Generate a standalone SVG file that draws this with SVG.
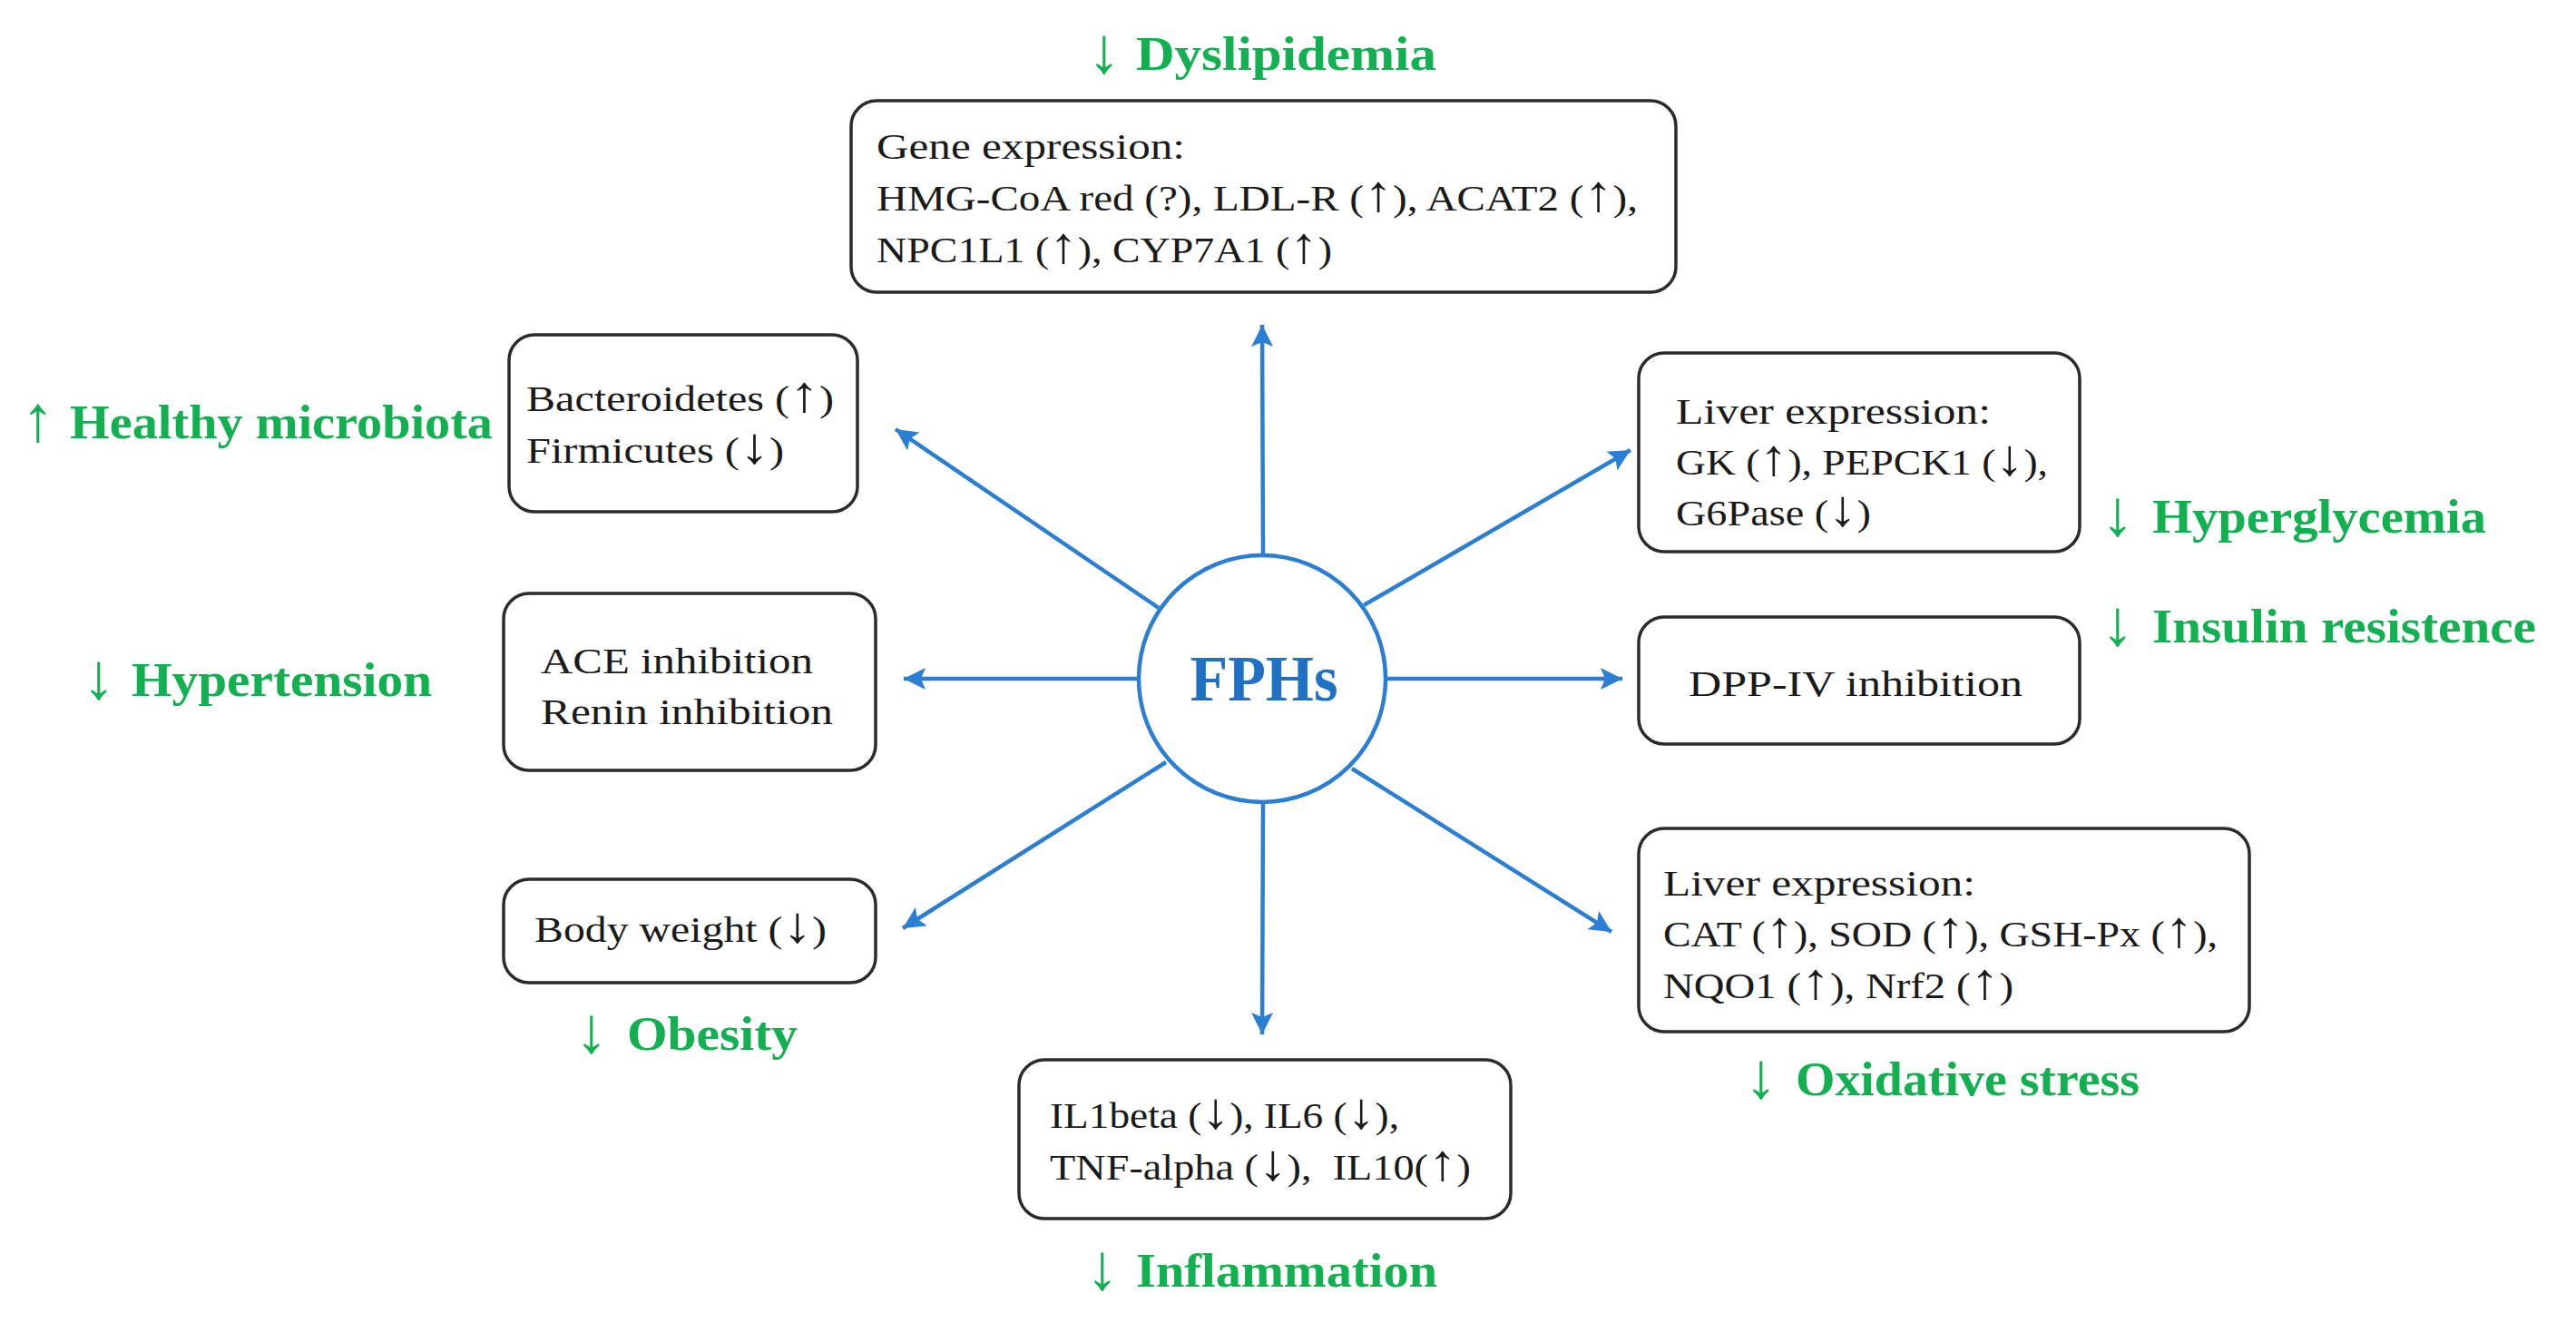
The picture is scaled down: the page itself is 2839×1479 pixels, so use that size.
<svg xmlns="http://www.w3.org/2000/svg" width="2839" height="1479" viewBox="0 0 2839 1479">
<style>
.box{fill:#ffffff;stroke:#2b2b2b;stroke-width:3.5}
.t{font-family:"Liberation Serif","Times New Roman",serif;font-size:41px;fill:#1a1a1a}
.ar{font-size:56px}
.g{font-family:"Liberation Serif","Times New Roman",serif;font-size:53px;font-weight:bold;fill:#12b050}
.ga{font-family:"Liberation Serif","Times New Roman",serif;font-size:72px;fill:#12b050;text-anchor:middle}
.c{stroke:#2a7fd4;stroke-width:4.5;fill:none;marker-end:url(#ah)}
.hub{fill:#ffffff;stroke:#2a7fd4;stroke-width:4.5}
.hubt{font-family:"Liberation Serif","Times New Roman",serif;font-size:72px;font-weight:bold;fill:#1f71c4;text-anchor:middle}
</style>
<defs>
<marker id="ah" markerUnits="userSpaceOnUse" markerWidth="26" markerHeight="26" refX="24" refY="12" orient="auto">
<path d="M0,0 L24,12 L0,24 L5,12 z" fill="#2a7fd4"/>
</marker>
</defs>
<rect width="2839" height="1479" fill="#ffffff"/>

<g id="connectors">
<line class="c" x1="1392" y1="612" x2="1391" y2="358"/>
<line class="c" x1="1277" y1="670" x2="987" y2="473"/>
<line class="c" x1="1255" y1="748" x2="996" y2="748"/>
<line class="c" x1="1285" y1="840" x2="995" y2="1023"/>
<line class="c" x1="1392" y1="885" x2="1391" y2="1140"/>
<line class="c" x1="1490" y1="847" x2="1776" y2="1027"/>
<line class="c" x1="1528" y1="748" x2="1788" y2="748"/>
<line class="c" x1="1503" y1="667" x2="1797" y2="496"/>
</g>

<g id="hub">
<circle class="hub" cx="1391" cy="748" r="136"/>
<text class="hubt" x="1393" y="772" textLength="163" lengthAdjust="spacingAndGlyphs">FPHs</text>
</g>

<g id="node-gene">
<rect class="box" x="938" y="111" width="909" height="211" rx="28"/>
<text class="t" x="966" y="175" textLength="340" lengthAdjust="spacingAndGlyphs">Gene expression:</text>
<text class="t" x="966" y="232" textLength="839" lengthAdjust="spacingAndGlyphs">HMG-CoA red (?), LDL-R (<tspan class="ar">↑</tspan>), ACAT2 (<tspan class="ar">↑</tspan>),</text>
<text class="t" x="966" y="289" textLength="502" lengthAdjust="spacingAndGlyphs">NPC1L1 (<tspan class="ar">↑</tspan>), CYP7A1 (<tspan class="ar">↑</tspan>)</text>
</g>

<g id="node-microbiota">
<rect class="box" x="561" y="369" width="384" height="195" rx="28"/>
<text class="t" x="580" y="453" textLength="339" lengthAdjust="spacingAndGlyphs">Bacteroidetes (<tspan class="ar">↑</tspan>)</text>
<text class="t" x="580" y="510" textLength="284" lengthAdjust="spacingAndGlyphs">Firmicutes (<tspan class="ar">↓</tspan>)</text>
</g>

<g id="node-ace">
<rect class="box" x="555" y="654" width="410" height="195" rx="28"/>
<text class="t" x="596" y="742" textLength="300" lengthAdjust="spacingAndGlyphs">ACE inhibition</text>
<text class="t" x="596" y="798" textLength="322" lengthAdjust="spacingAndGlyphs">Renin inhibition</text>
</g>

<g id="node-body">
<rect class="box" x="555" y="969" width="410" height="114" rx="28"/>
<text class="t" x="589" y="1038" textLength="322" lengthAdjust="spacingAndGlyphs">Body weight (<tspan class="ar">↓</tspan>)</text>
</g>

<g id="node-inflammation">
<rect class="box" x="1123" y="1168" width="542" height="175" rx="28"/>
<text class="t" x="1157" y="1243" textLength="385" lengthAdjust="spacingAndGlyphs">IL1beta (<tspan class="ar">↓</tspan>), IL6 (<tspan class="ar">↓</tspan>),</text>
<text class="t" x="1157" y="1300" textLength="464" lengthAdjust="spacingAndGlyphs">TNF-alpha (<tspan class="ar">↓</tspan>), &#160;IL10(<tspan class="ar">↑</tspan>)</text>
</g>

<g id="node-liver-glucose">
<rect class="box" x="1806" y="389" width="486" height="219" rx="28"/>
<text class="t" x="1847" y="467" textLength="347" lengthAdjust="spacingAndGlyphs">Liver expression:</text>
<text class="t" x="1847" y="523" textLength="410" lengthAdjust="spacingAndGlyphs">GK (<tspan class="ar">↑</tspan>), PEPCK1 (<tspan class="ar">↓</tspan>),</text>
<text class="t" x="1847" y="579" textLength="215" lengthAdjust="spacingAndGlyphs">G6Pase (<tspan class="ar">↓</tspan>)</text>
</g>

<g id="node-dpp">
<rect class="box" x="1806" y="680" width="486" height="140" rx="28"/>
<text class="t" x="1861" y="767" textLength="368" lengthAdjust="spacingAndGlyphs">DPP-IV inhibition</text>
</g>

<g id="node-liver-oxidative">
<rect class="box" x="1806" y="913" width="673" height="224" rx="28"/>
<text class="t" x="1833" y="987" textLength="344" lengthAdjust="spacingAndGlyphs">Liver expression:</text>
<text class="t" x="1833" y="1043" textLength="611" lengthAdjust="spacingAndGlyphs">CAT (<tspan class="ar">↑</tspan>), SOD (<tspan class="ar">↑</tspan>), GSH-Px (<tspan class="ar">↑</tspan>),</text>
<text class="t" x="1833" y="1100" textLength="386" lengthAdjust="spacingAndGlyphs">NQO1 (<tspan class="ar">↑</tspan>), Nrf2 (<tspan class="ar">↑</tspan>)</text>
</g>

<g id="label-dyslipidemia">
<text class="ga" x="1217" y="80">↓</text>
<text class="g" x="1252" y="77" textLength="331" lengthAdjust="spacingAndGlyphs">Dyslipidemia</text>
</g>
<g id="label-microbiota">
<text class="ga" x="42" y="486">↑</text>
<text class="g" x="77" y="483" textLength="466" lengthAdjust="spacingAndGlyphs">Healthy microbiota</text>
</g>
<g id="label-hypertension">
<text class="ga" x="109" y="770">↓</text>
<text class="g" x="145" y="767" textLength="331" lengthAdjust="spacingAndGlyphs">Hypertension</text>
</g>
<g id="label-obesity">
<text class="ga" x="652" y="1160">↓</text>
<text class="g" x="691" y="1157" textLength="188" lengthAdjust="spacingAndGlyphs">Obesity</text>
</g>
<g id="label-inflammation">
<text class="ga" x="1215" y="1421">↓</text>
<text class="g" x="1252" y="1418" textLength="332" lengthAdjust="spacingAndGlyphs">Inflammation</text>
</g>
<g id="label-oxidative">
<text class="ga" x="1941" y="1210">↓</text>
<text class="g" x="1979" y="1207" textLength="379" lengthAdjust="spacingAndGlyphs">Oxidative stress</text>
</g>
<g id="label-hyperglycemia">
<text class="ga" x="2334" y="590">↓</text>
<text class="g" x="2372" y="587" textLength="368" lengthAdjust="spacingAndGlyphs">Hyperglycemia</text>
</g>
<g id="label-insulin">
<text class="ga" x="2334" y="711">↓</text>
<text class="g" x="2372" y="708" textLength="423" lengthAdjust="spacingAndGlyphs">Insulin resistence</text>
</g>
</svg>
